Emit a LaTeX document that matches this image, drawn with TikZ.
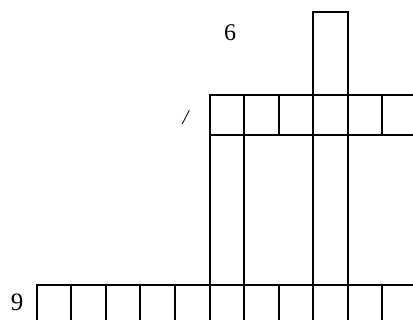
\documentclass[tikz,border=0pt]{standalone}
\usepackage{fontspec}
\setmainfont{Liberation Serif}
\begin{document}
\begin{tikzpicture}[x=1pt,y=-1pt,
  gridline/.style={line width=2pt,line cap=rect},
  lbl/.style={inner sep=0pt}]
\useasboundingbox (0,0) rectangle (413,320);
% bottom row
\draw[gridline] (36.7,285) -- (413,285);
\foreach \i in {0,...,10}{
  \draw[gridline] ({36.7+34.56*\i},285) -- ({36.7+34.56*\i},321);
}
% upper row
\draw[gridline] (209.5,95) -- (413,95);
\draw[gridline] (209.5,135) -- (413,135);
\foreach \i in {5,...,10}{
  \draw[gridline] ({36.7+34.56*\i},95) -- ({36.7+34.56*\i},135);
}
% long columns
\foreach \i in {5,6,8,9}{
  \draw[gridline] ({36.7+34.56*\i},135) -- ({36.7+34.56*\i},285);
}
% tall cell on top
\draw[gridline] (313.2,95) -- (313.2,12) -- (347.7,12) -- (347.7,95);
% labels
\node[lbl] (six) at (230,33) {\fontsize{24}{28}\selectfont 6};
\node[lbl] (nine) at (17,302.5) {\fontsize{25}{30}\selectfont 9};
\node[lbl] (slash) at (185.5,118) {\fontsize{21}{24}\selectfont\itshape /};
\end{tikzpicture}
\end{document}
